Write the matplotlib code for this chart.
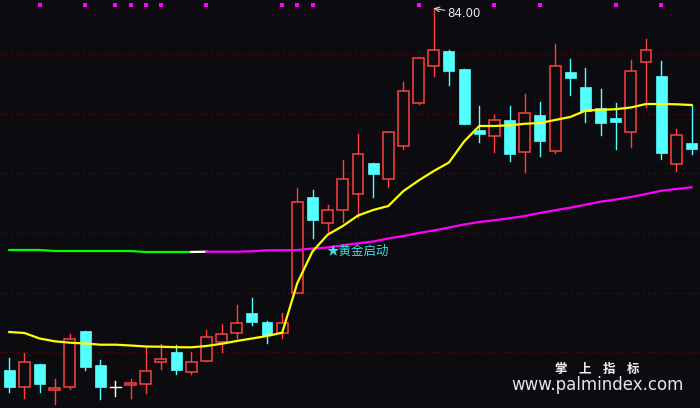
import numpy as np
import matplotlib
matplotlib.use("Agg")
import matplotlib.pyplot as plt
from matplotlib.patches import Rectangle

# daily bars
opens = [47.83, 46.10, 48.43, 45.80, 46.16, 51.73, 48.33, 46.16, 46.36, 46.40,
         48.60, 49.63, 47.66, 48.70, 50.66, 51.50, 53.53, 52.63, 51.50, 55.56,
         65.13, 62.56, 63.86, 65.40, 68.53, 66.90, 70.26, 74.56, 78.20, 79.73,
         77.93, 71.83, 71.20, 72.83, 69.60, 73.30, 69.70, 77.63, 76.13, 74.03,
         73.03, 71.60, 78.60, 77.23, 68.40, 70.53]
highs = [49.03, 49.53, 48.43, 46.93, 51.43, 51.73, 48.83, 46.73, 46.93, 50.16,
         50.43, 50.33, 49.63, 51.83, 52.43, 54.33, 55.00, 52.73, 53.53, 66.06,
         65.83, 64.33, 68.83, 71.40, 68.53, 71.60, 76.66, 79.13, 84.00, 79.83,
         77.93, 74.23, 73.33, 74.23, 75.43, 74.63, 80.43, 78.93, 78.03, 75.93,
         74.53, 78.83, 80.93, 78.73, 71.93, 74.33]
lows = [45.63, 45.06, 45.66, 44.46, 45.96, 47.86, 44.93, 45.26, 45.06, 45.56,
        47.96, 47.46, 47.46, 48.70, 49.66, 51.00, 52.33, 50.56, 51.06, 55.56,
        61.06, 61.66, 62.66, 63.16, 65.16, 66.16, 69.90, 74.46, 77.26, 76.36,
        72.46, 70.66, 69.66, 68.76, 67.66, 69.26, 69.56, 75.36, 72.66, 71.36,
        69.96, 70.16, 74.16, 68.96, 67.76, 69.46]
closes = [46.16, 48.60, 46.46, 46.00, 50.93, 48.16, 46.16, 46.16, 46.53, 47.70,
          48.90, 47.86, 48.60, 51.10, 51.40, 52.50, 52.63, 51.33, 52.50, 64.63,
          62.83, 63.80, 66.90, 69.40, 67.46, 71.60, 75.73, 79.00, 79.80, 77.76,
          72.46, 71.46, 72.80, 69.46, 73.50, 70.76, 78.20, 77.06, 73.73, 72.56,
          72.63, 77.73, 79.80, 69.56, 71.30, 69.96]

ma_short = [51.63, 51.53, 50.98, 50.70, 50.56, 50.48, 50.36, 50.36, 50.28, 50.18,
            50.16, 50.11, 50.10, 50.23, 50.45, 50.73, 50.98, 51.23, 51.56, 56.53,
            59.68, 61.36, 62.23, 63.28, 63.83, 64.23, 65.73, 66.78, 67.73, 68.58,
            70.68, 72.23, 72.23, 72.30, 72.45, 72.53, 72.83, 73.13, 73.76, 73.85,
            73.91, 74.08, 74.43, 74.43, 74.40, 74.33]
ma_long = [59.83, 59.83, 59.83, 59.73, 59.73, 59.73, 59.73, 59.73, 59.73, 59.63,
           59.63, 59.63, 59.63, 59.66, 59.66, 59.66, 59.70, 59.80, 59.80, 59.83,
           59.98, 60.08, 60.30, 60.50, 60.68, 60.98, 61.23, 61.53, 61.78, 62.08,
           62.38, 62.63, 62.81, 63.00, 63.23, 63.53, 63.81, 64.06, 64.36, 64.66,
           64.88, 65.13, 65.43, 65.75, 65.93, 66.10]

grid_levels = [79.41, 73.45, 67.49, 61.53, 55.57, 49.61]
signal_days = [2, 5, 7, 8, 9, 10, 13, 18, 19, 20, 27, 32, 35, 40, 43]
peak_label = "84.00"
signal_text = "★黄金启动"

BG = "#0c0c10"
UP = "#ff4040"
DOWN = "#54ffff"

fig = plt.figure(figsize=(7, 4.08), dpi=100, facecolor=BG)
ax = fig.add_axes([0, 0, 1, 1])
ax.set_facecolor(BG)
ax.set_xlim(-0.613, 45.56)
ax.set_ylim(44.03, 84.83)
ax.axis("off")

for lv in grid_levels:
    ax.axhline(lv, color="#5a0000", lw=1, ls=(0, (1.5, 2.2)), zorder=1)

w = 0.72
for i, (o, h, l, c) in enumerate(zip(opens, highs, lows, closes)):
    if c > o:
        col = UP
    elif c < o:
        col = DOWN
    else:
        col = "#ffffff"
    ax.plot([i, i], [l, h], color=col, lw=1.0, zorder=2)
    lo, hi = min(o, c), max(o, c)
    if col == UP:
        ax.add_patch(Rectangle((i - w / 2, lo), w, hi - lo, facecolor=BG,
                               edgecolor=col, lw=1.1, zorder=3))
    elif col == DOWN:
        ax.add_patch(Rectangle((i - w / 2, lo), w, hi - lo, facecolor=col,
                               edgecolor=col, lw=0.5, zorder=3))
    else:
        ax.plot([i - w / 2, i + w / 2], [o, o], color=col, lw=1.0, zorder=3)

x = np.arange(len(ma_long))
# long line: green while sagging, white at the turn, magenta after
ax.plot(x[:13], ma_long[:13], color="#00ff00", lw=1.6, zorder=4)
ax.plot(x[12:14], ma_long[12:14], color="#ffffff", lw=1.6, zorder=4)
ax.plot(x[13:], ma_long[13:], color="#ff00ff", lw=1.6, zorder=4)
ax.plot(x, ma_short, color="#ffff00", lw=1.6, zorder=5)

top = ax.get_ylim()[1] - 0.53
ax.scatter(signal_days, [top] * len(signal_days), marker="s", s=9,
           color="#ff00ff", linewidths=0, zorder=6)

ax.annotate(peak_label, xy=(28, highs[28]), xytext=(10, -4),
            textcoords="offset points", color="#e8e8e8", fontsize=8.5,
            va="center", ha="left",
            arrowprops=dict(arrowstyle="->", color="#e8e8e8", lw=0.7,
                            shrinkA=0, shrinkB=0))

ax.annotate(signal_text, xy=(21, ma_long[21]), xytext=(-1, -3),
            textcoords="offset points", color="#3ce0e0", fontsize=9,
            va="center", ha="left",
            family=["Noto Sans CJK SC", "DejaVu Sans"], zorder=7)

for k, ch in enumerate("掌上指标"):
    fig.text((560.7 + 24 * k) / 700, 1 - 369 / 408, ch, color="#f0f0f0",
             fontsize=9, fontweight="bold", ha="center", va="center",
             family=["Noto Sans CJK SC", "DejaVu Sans"])
fig.text(597 / 700, 1 - 384.5 / 408, "www.palmindex.com", color="#e6e6e6",
         fontsize=12, ha="center", va="center")

fig.savefig("out.png", dpi=100, facecolor=BG)
